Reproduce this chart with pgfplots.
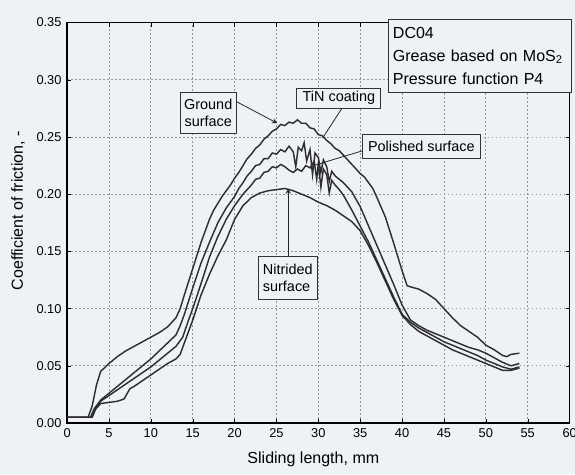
\documentclass[border=0pt]{standalone}
\usepackage{fontspec}
\setmainfont{Liberation Sans}
\usepackage{pgfplots}
\pgfplotsset{compat=1.18}
\definecolor{bg}{HTML}{EEF1F6}
\definecolor{curve}{HTML}{2E2E2E}
\begin{document}
\begin{tikzpicture}
\fill[bg] (0,0) rectangle (359pt,296pt);
\useasboundingbox (0,0) rectangle (359pt,296pt);
\begin{axis}[
    at={(41.9pt,31.9pt)}, anchor=south west,
    scale only axis, width=313.75pt, height=250pt,
    xmin=0, xmax=60, ymin=0, ymax=0.35,
    xtick={0,5,...,60},
    ytick={0,0.05,0.10,0.15,0.20,0.25,0.30,0.35},
    /pgf/number format/assume math mode=true,
    yticklabel style={/pgf/number format/.cd, fixed, fixed zerofill, precision=2},
    xticklabel style={/pgf/number format/.cd, fixed, precision=0},
    tick label style={font=\footnotesize},
    major tick length=2.5pt,
    tick style={black},
    axis line style={black, line width=0.8pt},
    grid=major,
    grid style={dash pattern=on 1pt off 1.5pt, gray!85, line width=0.5pt},
    xlabel={Sliding length, mm},
    ylabel={Coefficient of friction, -},
    xlabel style={at={(axis description cs:0.49,-0.09)}, anchor=center},
    ylabel style={at={(axis description cs:-0.0975,0.53)}, anchor=center},
    clip=false,
]

% ground surface
\addplot[curve, line width=0.9pt, mark=none] coordinates {
 (0,0.005) (2.5,0.005) (3.0,0.015) (3.5,0.033) (4.0,0.045) (5,0.052) (6,0.058)
 (7,0.063) (8,0.067) (9,0.071) (10,0.075) (11,0.079) (12,0.084) (13,0.092)
 (13.5,0.100) (14,0.112) (15,0.135) (16,0.158) (17,0.178) (17.5,0.186) (18,0.192)
 (18.5,0.198) (19,0.203) (19.5,0.208) (20,0.214) (20.5,0.219) (21,0.225)
 (21.5,0.231) (22,0.235) (22.5,0.240) (23,0.243) (23.5,0.248) (24,0.251)
 (24.5,0.255) (25,0.257) (25.5,0.261) (26,0.260) (26.5,0.263) (27,0.262)
 (27.5,0.265) (28,0.262) (28.5,0.262) (29,0.258) (29.5,0.257) (30,0.252)
 (30.5,0.251) (31,0.247) (31.5,0.244) (32,0.240) (32.5,0.238) (33,0.234)
 (33.5,0.230) (34,0.226) (34.5,0.222) (35,0.218) (35.5,0.215) (36,0.210)
 (36.5,0.205) (37,0.197) (38,0.180) (39,0.157) (40,0.133) (40.6,0.120)
 (41,0.119) (42,0.117) (43,0.113) (44,0.108) (45,0.100) (46,0.092) (47,0.085)
 (48,0.080) (49,0.075) (50,0.068) (51,0.064) (52,0.059) (52.5,0.058)
 (53,0.060) (54,0.061)
};

% TiN coating
\addplot[curve, line width=0.9pt, mark=none] coordinates {
 (0,0.005) (2.8,0.005) (3.2,0.012) (4,0.020) (5,0.026) (6,0.032) (7,0.038)
 (8,0.044) (9,0.050) (10,0.056) (11,0.063) (12,0.070) (13,0.077) (13.5,0.085)
 (14,0.095) (15,0.118) (16,0.140) (17,0.158) (18,0.175) (19,0.188) (20,0.198)
 (20.5,0.205) (21,0.210) (21.5,0.216) (22,0.220) (22.5,0.225) (23,0.226)
 (23.5,0.231) (24,0.231) (24.5,0.236) (25,0.235) (25.5,0.239) (26,0.237)
 (26.5,0.242) (27,0.237) (27.3,0.224) (27.6,0.241) (28,0.238) (28.3,0.245)
 (28.6,0.229) (29,0.239) (29.3,0.217) (29.6,0.236) (30,0.232) (30.3,0.219)
 (30.6,0.230) (31,0.224) (31.3,0.211) (31.6,0.220) (32,0.216) (32.5,0.213)
 (33,0.210) (34,0.202) (35,0.189) (36,0.172) (37,0.155) (38,0.138) (39,0.121)
 (40,0.103) (41,0.090) (42,0.085) (43,0.081) (44,0.078) (45,0.075) (46,0.072)
 (47,0.069) (48,0.066) (49,0.064) (50,0.061) (51,0.057) (52,0.053) (53,0.050)
 (54,0.052)
};

% polished surface
\addplot[curve, line width=0.9pt, mark=none] coordinates {
 (0,0.005) (2.8,0.005) (3.3,0.012) (4,0.019) (5,0.024) (6,0.029) (7,0.034)
 (8,0.039) (9,0.044) (10,0.049) (11,0.055) (12,0.061) (13,0.067) (13.8,0.075)
 (14.5,0.090) (15,0.100) (16,0.122) (17,0.145) (18,0.163) (19,0.178) (20,0.190)
 (21,0.200) (22,0.208) (22.5,0.213) (23,0.214) (23.5,0.219) (24,0.220)
 (24.5,0.224) (25,0.223) (25.5,0.226) (26,0.224) (26.5,0.221) (27,0.219)
 (27.5,0.222) (28,0.220) (28.5,0.225) (29,0.223) (29.5,0.229) (29.8,0.213)
 (30,0.227) (30.3,0.206) (30.6,0.222) (31,0.217) (31.3,0.201) (31.6,0.212)
 (32,0.208) (32.5,0.204) (33,0.199) (34,0.186) (35,0.172) (36,0.158)
 (37,0.142) (38,0.126) (39,0.110) (40,0.095) (41,0.088) (42,0.083) (43,0.079)
 (44,0.075) (45,0.071) (46,0.068) (47,0.065) (48,0.062) (49,0.059) (50,0.055)
 (51,0.052) (52,0.049) (53,0.047) (54,0.049)
};

% nitrided surface
\addplot[curve, line width=0.9pt, mark=none] coordinates {
 (0,0.005) (3.0,0.005) (3.4,0.012) (4,0.017) (5,0.018) (6,0.019) (6.8,0.021)
 (7.5,0.030) (8,0.032) (9,0.037) (10,0.042) (11,0.047) (12,0.052) (13,0.056)
 (13.5,0.060) (14,0.070) (15,0.090) (16,0.112) (17,0.130) (18,0.146)
 (19,0.160) (20,0.178) (21,0.190) (22,0.197) (23,0.201) (24,0.203) (25,0.204)
 (26,0.205) (27,0.203) (28,0.200) (29,0.197) (30,0.193) (31,0.190) (32,0.186)
 (33,0.181) (34,0.176) (35,0.168) (36,0.155) (37,0.140) (38,0.124) (39,0.108)
 (40,0.094) (41,0.086) (42,0.080) (43,0.076) (44,0.072) (45,0.068) (46,0.064)
 (47,0.061) (48,0.058) (49,0.055) (50,0.052) (51,0.049) (52,0.046) (53,0.046)
 (54,0.048)
};

\tikzset{lbl/.style={draw=black!80, line width=0.6pt, fill=bg, font=\small,
    inner sep=2pt}}
\draw[black!85, line width=0.5pt, -stealth] (axis cs:20.2,0.281) -- (axis cs:25.1,0.262);
\draw[black!85, line width=0.5pt] (axis cs:32.9,0.276) -- (axis cs:30.5,0.249);
\draw[black!85, line width=0.5pt] (axis cs:35.3,0.238) -- (axis cs:29.4,0.225);
\draw[black!85, line width=0.5pt, -stealth] (axis cs:26.4,0.146) -- (axis cs:26.4,0.205);
\node[lbl, align=center, minimum width=35pt, minimum height=26pt]
    at (axis cs:16.85,0.271) {Ground\\surface};
\node[lbl, minimum width=52.5pt, minimum height=12pt]
    at (axis cs:32.45,0.284) {TiN coating};
\node[lbl, minimum width=74pt, minimum height=15pt]
    at (axis cs:42.3,0.242) {Polished surface};
\node[lbl, align=left, minimum width=37pt, minimum height=27pt]
    at (axis cs:26.35,0.127) {Nitrided\\surface};
\node[draw=black!80, line width=0.6pt, fill=bg, anchor=north west, align=left,
    text width=109pt, inner xsep=2.5pt, inner ysep=3pt, minimum height=45.6pt]
    at (axis cs:38.37,0.3535)
    {DC04\\[2.4pt]Grease based on MoS\textsubscript{2}\\[2.4pt]Pressure function P4};
\end{axis}
\end{tikzpicture}
\end{document}
